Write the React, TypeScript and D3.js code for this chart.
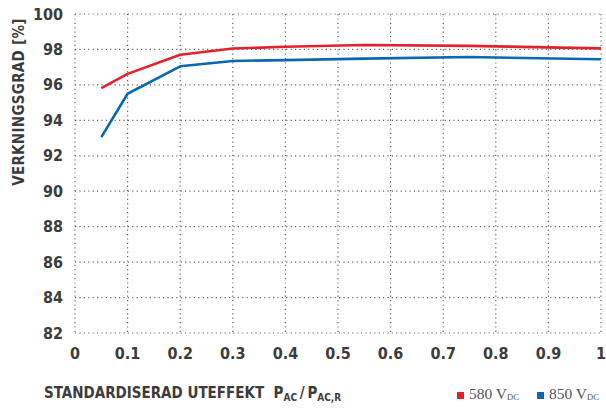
import React from "react";
import * as d3 from "d3";

const loads = [0.05, 0.1, 0.2, 0.3, 0.4, 0.55, 0.75, 1.0];
const eff580 = [95.82, 96.62, 97.7, 98.05, 98.15, 98.25, 98.2, 98.06];
const eff850 = [93.05, 95.5, 97.05, 97.35, 97.4, 97.48, 97.57, 97.45];
const xTicks = [0, 0.1, 0.2, 0.3, 0.4, 0.5, 0.6, 0.7, 0.8, 0.9, 1];
const yTicks = [82, 84, 86, 88, 90, 92, 94, 96, 98, 100];
const seriesNames = ["580", "850"];

const W = 606, H = 409;
const left = 75, right = 601, top = 14, bottom = 333;
const font = "'DejaVu Sans Condensed', 'DejaVu Sans', sans-serif";
const textColor = "#3c3c3c";

export default function App() {
  const x = d3.scaleLinear().domain([0, 1]).range([left, right]);
  const y = d3.scaleLinear().domain([82, 100]).range([bottom, top]);
  const line = d3.line<[number, number]>().x(d => x(d[0])).y(d => y(d[1])).curve(d3.curveLinear);
  const d580 = line(loads.map((l, i) => [l, eff580[i]] as [number, number])) || "";
  const d850 = line(loads.map((l, i) => [l, eff850[i]] as [number, number])) || "";
  const colors = ["#e3212d", "#0a67b2"];
  return (
    <svg width={W} height={H} style={{ position: "absolute", left: 0, top: 0 }}>
      <rect width={W} height={H} fill="#fff" />
      {yTicks.map(t => (
        <line key={"gy" + t} x1={left} x2={right} y1={y(t)} y2={y(t)} stroke="#666" strokeWidth={1.2} strokeDasharray="1.2 3.2" />
      ))}
      {xTicks.map(t => (
        <line key={"gx" + t} x1={x(t)} x2={x(t)} y1={top} y2={bottom} stroke="#666" strokeWidth={1.2} strokeDasharray="1.2 3.2" />
      ))}
      <path d={d850} fill="none" stroke={colors[1]} strokeWidth={2.6} strokeLinejoin="round" />
      <path d={d580} fill="none" stroke={colors[0]} strokeWidth={2.6} strokeLinejoin="round" />
      {yTicks.map(t => (
        <text key={"ty" + t} x={63} y={y(t) + 5.5} textAnchor="end" fontFamily={font} fontWeight="bold" fontSize={16} fill={textColor}>{t}</text>
      ))}
      {xTicks.map(t => (
        <text key={"tx" + t} x={x(t)} y={359} textAnchor="middle" fontFamily={font} fontWeight="bold" fontSize={16} fill={textColor}>{String(t)}</text>
      ))}
      <text transform={`translate(24,${(14 + 190) / 2}) rotate(-90)`} textAnchor="middle" fontFamily={font} fontWeight="bold" fontSize={15} fill={textColor} letterSpacing={0.3}>VERKNINGSGRAD [%]</text>
      <text x={44} y={398} fontFamily={font} fontWeight="bold" fontSize={15} fill={textColor}>
        STANDARDISERAD UTEFFEKT{"\u00a0\u00a0"}P
        <tspan fontSize={10} dy={3}>AC</tspan>
        <tspan dy={-3}>{"\u2009"}/{"\u2009"}P</tspan>
        <tspan fontSize={10} dy={3}>AC,R</tspan>
      </text>
      {seriesNames.map((n, i) => (
        <g key={n} transform={`translate(${457 + i * 80},0)`}>
          <rect x={0} y={392} width={7} height={7} fill={colors[i]} />
          <text x={12} y={399} fontFamily="'Liberation Serif', serif" fontSize={15.5} fill="#555">
            {n} V<tspan fontSize={8.5} dy={1}>DC</tspan>
          </text>
        </g>
      ))}
    </svg>
  );
}
